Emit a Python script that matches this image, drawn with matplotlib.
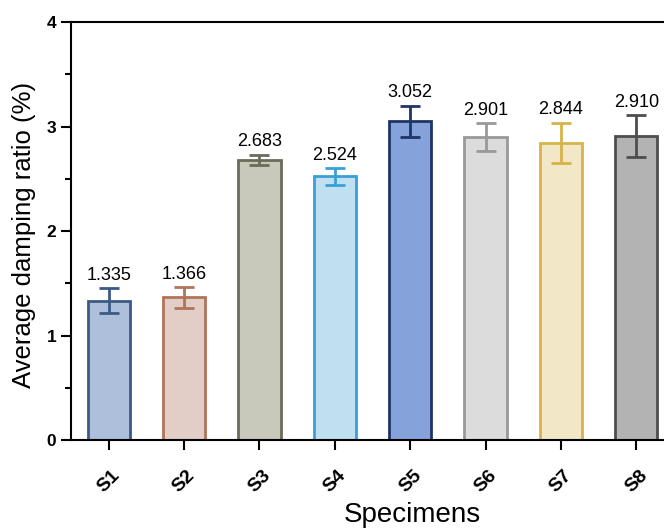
import matplotlib
matplotlib.use("Agg")
import matplotlib.pyplot as plt
import numpy as np

plt.rcParams['font.family'] = ['Liberation Sans', 'DejaVu Sans']

specimens = ["S1", "S2", "S3", "S4", "S5", "S6", "S7", "S8"]
damping = [1.335, 1.366, 2.683, 2.524, 3.052, 2.901, 2.844, 2.910]
errors = [0.12, 0.10, 0.05, 0.08, 0.15, 0.13, 0.195, 0.20]
fill_colors = ["#adbfda", "#e2cec6", "#c9c9bb", "#c0e0f2",
               "#85a3da", "#dcdcdc", "#f2e8c8", "#b3b3b3"]
edge_colors = ["#3b5a85", "#b07458", "#6b6b5c", "#3a9fd6",
               "#1f3566", "#999999", "#d7b44a", "#4d4d4d"]

fig = plt.figure(figsize=(6.64, 5.29), dpi=100)
ax = fig.add_axes([0.107, 0.168, 0.908, 0.790])

x = np.arange(1, len(specimens) + 1)
for i in range(len(specimens)):
    ax.bar(x[i], damping[i], width=0.56, color=fill_colors[i],
           edgecolor=edge_colors[i], linewidth=2, zorder=2)
    ax.errorbar(x[i], damping[i], yerr=errors[i], fmt="none",
                ecolor=edge_colors[i], elinewidth=2, capsize=7.5,
                capthick=2, zorder=3)
    ax.text(x[i], damping[i] + errors[i] + 0.04, f"{damping[i]:.3f}",
            ha="center", va="bottom", fontsize=13)

ax.set_xlim(0.5, 8.5)
ax.set_ylim(0, 4)
ax.set_yticks([0, 1, 2, 3, 4])
ax.set_yticks([0.5, 1.5, 2.5, 3.5], minor=True)
ax.set_xticks(x)
ax.set_xticklabels(specimens, rotation=45, fontweight="bold", fontsize=14)
for lab in ax.get_yticklabels():
    lab.set_fontweight("bold")
    lab.set_fontsize(12.5)

for sp in ax.spines.values():
    sp.set_linewidth(1.5)

ax.tick_params(axis="y", which="major", direction="out", length=7, width=1.5, right=True)
ax.tick_params(axis="y", which="minor", direction="out", length=4, width=1.5)
ax.tick_params(axis="x", which="major", direction="out", length=7, width=1.5, pad=12)

ax.set_ylabel("Average damping ratio (%)", fontsize=18.5)
ax.set_xlabel("Specimens", fontsize=20)
ax.xaxis.set_label_coords(0.566, -0.148)
ax.yaxis.set_label_coords(-0.058, 0.49)

fig.savefig("out.png", dpi=100)
